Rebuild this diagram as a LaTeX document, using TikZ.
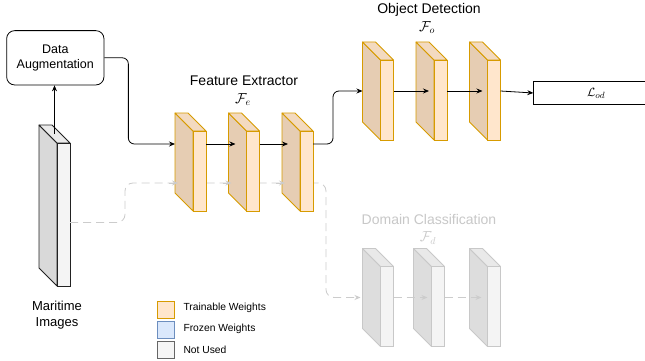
\documentclass[tikz,border=0pt]{standalone}
\usepackage{fontspec}
\setmainfont{Liberation Sans}
\usetikzlibrary{arrows.meta}

% palette
\definecolor{trFill}{HTML}{FFE6CC}
\definecolor{trSideC}{HTML}{E6CDB3}
\definecolor{trTopC}{HTML}{F3DAC0}
\definecolor{trLine}{HTML}{D79B00}
\definecolor{frFill}{HTML}{DAE8FC}
\definecolor{frLine}{HTML}{6C8EBF}
\definecolor{nuFill}{HTML}{F5F5F5}
\definecolor{nuLine}{HTML}{666666}
\definecolor{imgSideC}{HTML}{D9D9D9}
\definecolor{imgTopC}{HTML}{EBEBEB}
\definecolor{imgFrontC}{HTML}{F4F4F4}
\definecolor{imgLine}{HTML}{222222}
\definecolor{dcSideC}{HTML}{DDDDDD}
\definecolor{dcTopC}{HTML}{E9E9E9}
\definecolor{dcFrontC}{HTML}{F4F4F4}
\definecolor{dcLine}{HTML}{C8C8C8}
\definecolor{ghost}{HTML}{CCCCCC}

\tikzset{
  x=1pt, y=-1pt,
  % faces of the three kinds of layer blocks
  trSide/.style={fill=trSideC, draw=trLine, line width=0.8pt, line join=round},
  trTop/.style={fill=trTopC, draw=trLine, line width=0.8pt, line join=round},
  trFront/.style={fill=trFill, draw=trLine, line width=0.8pt, inner sep=0pt, outer sep=0pt},
  imSide/.style={fill=imgSideC, draw=imgLine, line width=0.8pt, line join=round},
  imTop/.style={fill=imgTopC, draw=imgLine, line width=0.8pt, line join=round},
  imFront/.style={fill=imgFrontC, draw=imgLine, line width=0.8pt, inner sep=0pt, outer sep=0pt},
  dcSide/.style={fill=dcSideC, draw=dcLine, line width=0.8pt, line join=round},
  dcTop/.style={fill=dcTopC, draw=dcLine, line width=0.8pt, line join=round},
  dcFront/.style={fill=dcFrontC, draw=dcLine, line width=0.8pt, inner sep=0pt, outer sep=0pt},
  % connectors
  arr/.style={-{Stealth[length=6pt,width=5pt]}, line width=0.8pt, black},
  ghostarr/.style={-{Stealth[length=6pt,width=5pt]}, line width=0.8pt, draw=ghost,
    dash pattern=on 8pt off 5pt},
  ghosttip/.style={-{Stealth[length=6pt,width=5pt]}, line width=0.8pt, draw=ghost},
  % text
  title/.style={font=\fontsize{14}{16}\selectfont, inner sep=0pt},
  legbox/.style={minimum width=17.4pt, minimum height=16.6pt, inner sep=0pt, line width=0.8pt},
  legtext/.style={font=\fontsize{10.3}{12}\selectfont, inner sep=0pt, anchor=west},
}

% #1 name, #2 x, #3 y (back top-left corner), #4 height, #5 depth x, #6 depth y,
% #7 front width, #8 scheme (tr, im, dc)
\newcommand\cubeblock[8]{%
  \filldraw[#8Side] (#2,#3) -- ++(#5,#6) -- ++(0,#4) -- ++(-#5,-#6) -- cycle;
  \filldraw[#8Top] (#2,#3) -- ++(#7,0) -- ++(#5,#6) -- ++(-#7,0) -- cycle;
  \node[#8Front, minimum width=#7pt, minimum height=#4pt, anchor=north west]
    (#1) at (#2+#5,#3+#6) {};
  \coordinate (#1-top) at (#2+#7/2+#5/2,#3+#6/2);
}

\begin{document}
\begin{tikzpicture}
\clip (0,0) rectangle (645,361);
\fill[white] (0,0) rectangle (645,361);

% input images
\cubeblock{img}{39}{125}{143}{18}{18}{13}{im}
\node[align=center, font=\fontsize{13}{16.6}\selectfont, inner sep=0pt] (imgT) at (57,315) {Maritime\\Images};

% data augmentation
\node[draw, line width=0.8pt, rounded corners=8pt, minimum width=97.3pt, minimum height=54.3pt,
      align=center, font=\fontsize{12.5}{14.5}\selectfont] (da) at (55.3,57.8) {Data\\Augmentation};

% unused path towards domain classification (behind the blocks)
\draw[ghostarr, rounded corners=8pt] ([yshift=-8pt]img.east) -- ++(55,0)
  |- (326,183) |- (360.5,297.5);

% feature extractor
\cubeblock{fe1}{175}{113}{80}{18}{18}{13}{tr}
\cubeblock{fe2}{228.5}{113}{80}{18}{18}{13}{tr}
\cubeblock{fe3}{282}{113}{80}{18}{18}{13}{tr}
\node[title] (feT) at (244,80.7) {Feature Extractor};
\node[title] (feM) at (243,99.3) {$\mathcal{F}_e$};

% object detection
\cubeblock{od1}{362.5}{42}{80}{18}{18}{13}{tr}
\cubeblock{od2}{416}{42}{80}{18}{18}{13}{tr}
\cubeblock{od3}{469.5}{42}{80}{18}{18}{13}{tr}
\node[title] (odT) at (429,10) {Object Detection};
\node[title] (odM) at (427,28) {$\mathcal{F}_o$};

\node[draw, line width=0.8pt, minimum width=125pt, minimum height=22.6pt, anchor=west,
      inner sep=0pt, font=\fontsize{13}{15}\selectfont] (lod) at (533.3,93) {$\mathcal{L}_{od}$};

% domain classification
\cubeblock{dc1}{362.5}{248.5}{80}{18}{18}{13}{dc}
\cubeblock{dc2}{413.5}{248.5}{80}{18}{18}{13}{dc}
\cubeblock{dc3}{469.5}{248.5}{80}{18}{18}{13}{dc}
\node[title, text=dcLine] (dcT) at (429,219.3) {Domain Classification};
\node[title, text=dcLine] (dcM) at (428,238) {$\mathcal{F}_d$};

% connectors
\draw[arr] (img-top) -- (img-top |- da.south);
\draw[arr, rounded corners=6pt] (da.east) -- ++(24,0) |- ([xshift=-18pt,yshift=-13pt]fe1.north west);
\draw[arr] ([yshift=-13pt]fe1.north east) -- ([xshift=-11pt,yshift=-13pt]fe2.north west);
\draw[arr] ([yshift=-13pt]fe2.north east) -- ([xshift=-12pt,yshift=-13pt]fe3.north west);
\draw[arr, rounded corners=6pt] ([yshift=-13pt]fe3.north east) -- ++(20,0)
  |- ([xshift=-18pt,yshift=-31pt]od1.north west);
\draw[arr] ([yshift=-31pt]od1.north east) -- ([xshift=-5pt,yshift=-31pt]od2.north west);
\draw[arr] ([yshift=-31pt]od2.north east) -- ([xshift=-5pt,yshift=-31pt]od3.north west);
\draw[arr] ([yshift=-31pt]od3.north east) -- (lod.west);

% faint arrow tips of the unused path over the extractor blocks
\draw[ghosttip] ([xshift=-24pt,yshift=-52pt]fe1.north west) -- ([xshift=-15pt,yshift=-52pt]fe1.north west);
\draw[ghosttip] ([xshift=-24pt,yshift=-52pt]fe2.north west) -- ([xshift=-15pt,yshift=-52pt]fe2.north west);
\draw[ghosttip] ([xshift=-24pt,yshift=-52pt]fe3.north west) -- ([xshift=-15pt,yshift=-52pt]fe3.north west);

\draw[ghostarr] ([yshift=-31pt]dc1.north east) -- ([xshift=-4pt,yshift=-31pt]dc2.north west);
\draw[ghostarr] ([yshift=-31pt]dc2.north east) -- ([xshift=-6pt,yshift=-31pt]dc3.north west);

% legend
\node[legbox, fill=trFill, draw=trLine] (lg1) at (166,310) {};
\node[legbox, fill=frFill, draw=frLine] (lg2) at (166,329.7) {};
\node[legbox, fill=nuFill, draw=nuLine] (lg3) at (166,349.7) {};
\node[legtext] (lg1t) at (183.3,307.5) {Trainable Weights};
\node[legtext] (lg2t) at (183.3,329.3) {Frozen Weights};
\node[legtext] (lg3t) at (183.3,350) {Not Used};
\end{tikzpicture}
\end{document}
